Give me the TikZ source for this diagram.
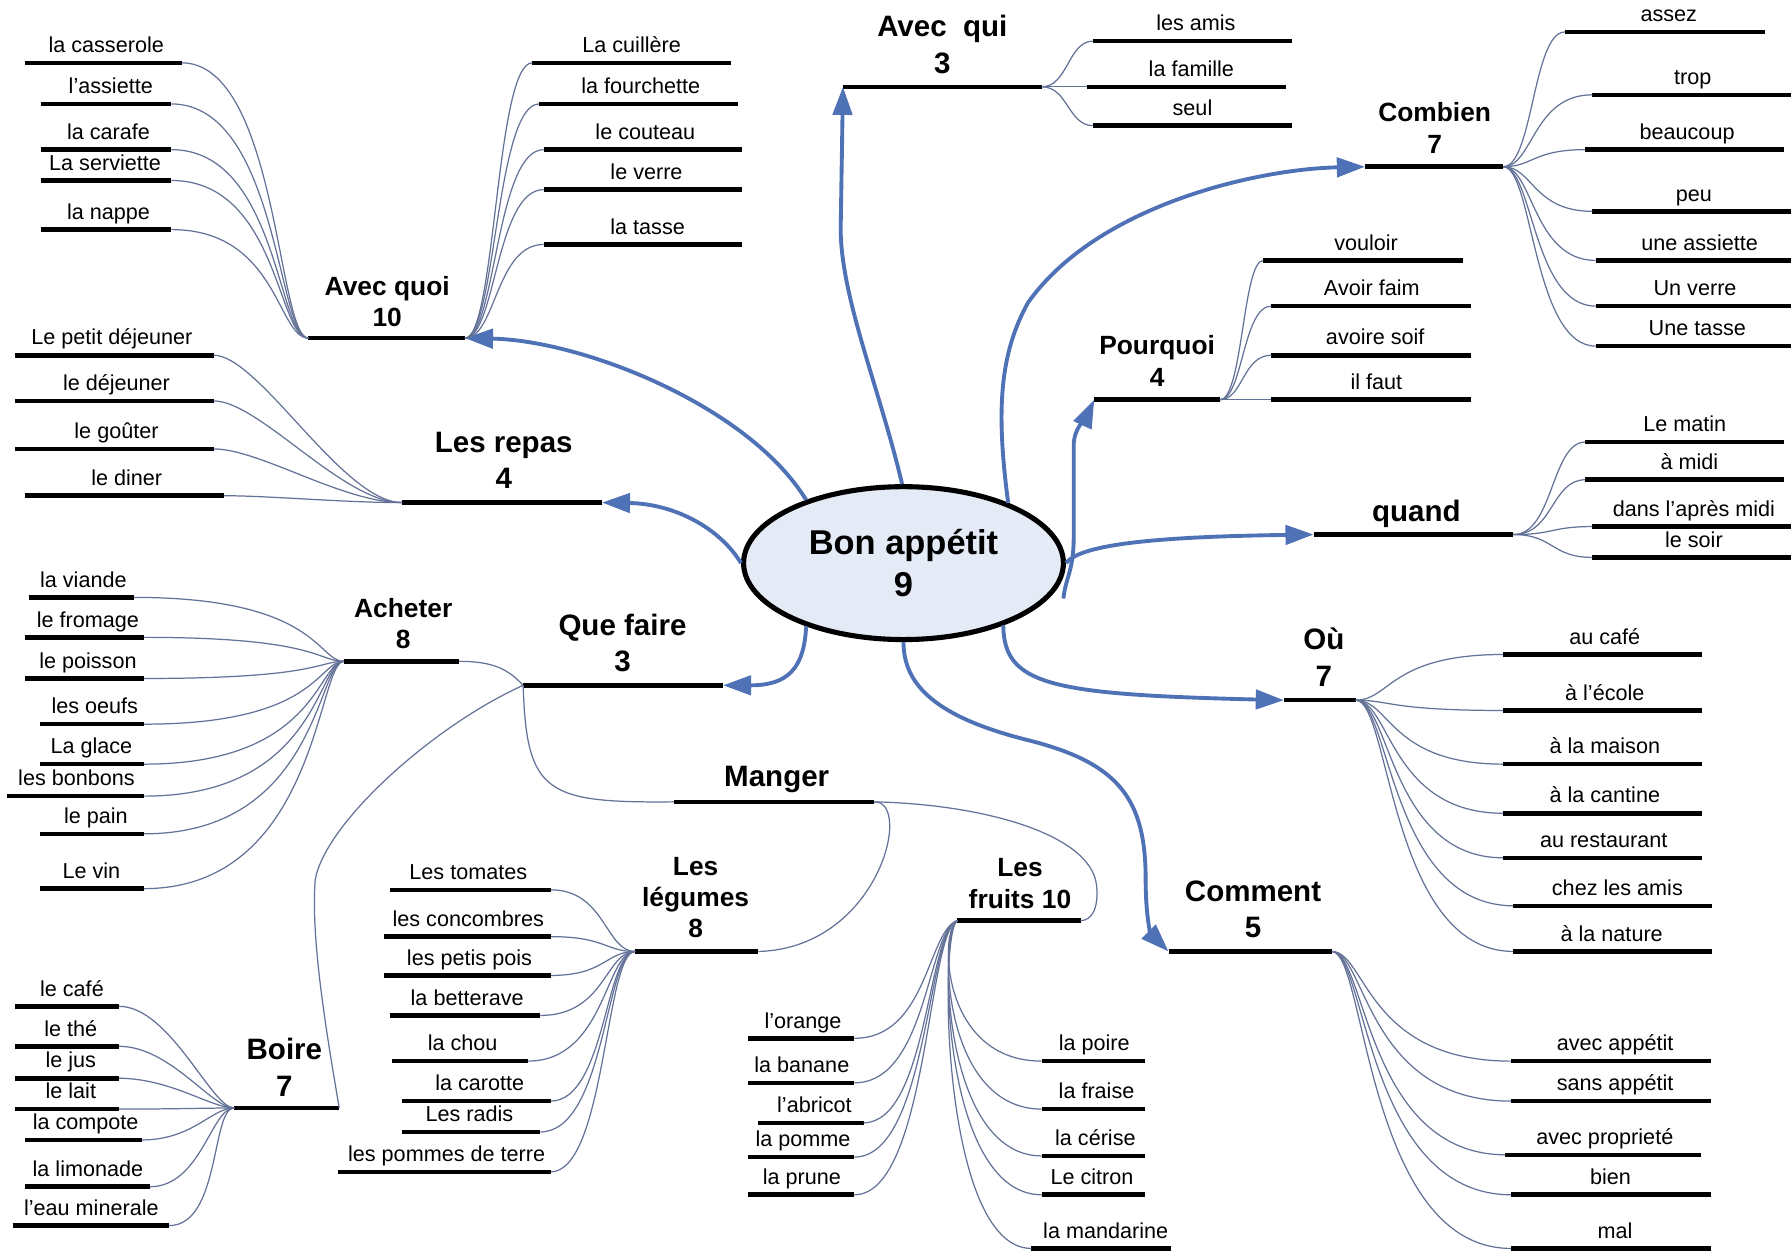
\documentclass[tikz,border=0pt]{standalone}
\usepackage{fontspec}
\setmainfont{Liberation Sans}
\usepackage{tikz}
\usetikzlibrary{arrows.meta, shapes.geometric}
\definecolor{arrowblue}{RGB}{79,114,182}
\definecolor{twiggray}{RGB}{100,114,152}
\definecolor{hubfill}{RGB}{229,235,246}

\begin{document}
\begin{tikzpicture}[
    x=0.65pt, y=-0.65pt,
    hub/.style={ellipse, draw, line width=2.9pt, fill=hubfill, minimum width=182pt, minimum height=87pt, align=center, font=\fontsize{19.6}{23.5}\selectfont\bfseries},
    topic/.style={anchor=base, align=center, inner sep=0pt, font=\fontsize{16.8}{20.8}\selectfont\bfseries},
    head/.style={anchor=base, align=center, inner sep=0pt, font=\fontsize{15}{17.8}\selectfont\bfseries},
    word/.style={anchor=base, inner sep=0pt, font=\fontsize{12.3}{14}\selectfont},
    bar/.style={line width=2.6pt},
    twig/.style={twiggray, line width=0.7pt},
    branch/.style={-{Triangle[length=16pt, width=11pt]}, arrowblue, line width=2.2pt}
]
\useasboundingbox (0,0) rectangle (1568,1096);

% 中心节点
\node[hub] (bon) at (791,493) {Bon appétit\\9};

% 主题横线
\draw[bar] (270,296) coordinate (aq-w) -- (407,296) coordinate (aq-e);
\draw[bar] (352,440) coordinate (lr-w) -- (527,440) coordinate (lr-e);
\draw[bar] (458,600) coordinate (qf-w) -- (633,600) coordinate (qf-e);
\draw[bar] (301,579) coordinate (ac-w) -- (402,579) coordinate (ac-e);
\draw[bar] (205,970) coordinate (bo-w) -- (297,970) coordinate (bo-e);
\draw[bar] (590,702) coordinate (ma-w) -- (765,702) coordinate (ma-e);
\draw[bar] (556,833) coordinate (lg-w) -- (664,833) coordinate (lg-e);
\draw[bar] (838,806) coordinate (fr-w) -- (946,806) coordinate (fr-e);
\draw[bar] (738,76) coordinate (aqi-w) -- (912,76) coordinate (aqi-e);
\draw[bar] (1195,146) coordinate (cb-w) -- (1316,146) coordinate (cb-e);
\draw[bar] (958,350) coordinate (pq-w) -- (1068,350) coordinate (pq-e);
\draw[bar] (1150,468) coordinate (qd-w) -- (1325,468) coordinate (qd-e);
\draw[bar] (1124,613) coordinate (ou-w) -- (1187,613) coordinate (ou-e);
\draw[bar] (1023,833) coordinate (cm-w) -- (1166,833) coordinate (cm-e);

% 主题文字 (基线为最后一行)
\node[head] (aq) at (339,286) {Avec quoi\\10};
\node[topic] (lr) at (441,428) {Les repas\\4};
\node[topic] (qf) at (545,588) {Que faire\\3};
\node[head] (ac) at (353,568) {Acheter\\8};
\node[topic] (bo) at (249,960) {Boire\\7};
\node[topic] (ma) at (680,689) {Manger};
\node[head] (lg) at (609,821) {Les\\légumes\\8};
\node[head] (fr) at (893,795) {Les\\fruits 10};
\node[topic] (aqi) at (825,64) {Avec\ \ qui\\3};
\node[head] (cb) at (1256,134) {Combien\\7};
\node[head] (pq) at (1013,338) {Pourquoi\\4};
\node[topic] (qd) at (1240,457) {quand};
\node[topic] (ou) at (1159,601) {Où\\7};
\node[topic] (cm) at (1097,821) {Comment\\5};

% 从中心出发的箭头
\coordinate (pq-s) at (931,524);
\draw[branch] (bon.147) .. controls (655,355) and (510,298) .. (aq-e);
\draw[branch] (bon.west) .. controls (630,462) and (590,441) .. (lr-e);
\draw[branch] (bon.-147) .. controls (704,585) and (690,600) .. (qf-e);
\draw[branch] (bon.91) .. controls (770,340) and (736,260) .. (736,200) -- (aqi-w);
\draw[branch] (bon.30) .. controls (872,360) and (875,310) .. (900,265) .. controls (960,180) and (1100,148) .. (cb-w);
\draw[branch] (pq-s) .. controls (933,505) and (940,500) .. (940,470) -- (940,390) .. controls (940,375) and (951,365) .. (pq-w);
\draw[branch] (bon.east) .. controls (945,478) and (1000,470) .. (qd-w);
\draw[branch] (bon.-32) .. controls (879,600) and (920,608) .. (ou-w);
\draw[branch] (bon.south) .. controls (791,600) and (820,628) .. (900,648) .. controls (980,668) and (1003,700) .. (1003,770) .. controls (1003,805) and (1008,818) .. (cm-w);

% 主题之间的细线
\draw[twig] (qf-w) .. controls (445,586) and (432,579) .. (ac-e);
\draw[twig] (qf-w) .. controls (380,635) and (285,720) .. (276,770) .. controls (272,820) and (285,900) .. (bo-e);
\draw[twig] (qf-w) .. controls (461,695) and (478,703) .. (ma-w);
\draw[twig] (ma-e) .. controls (800,700) and (770,830) .. (lg-e);
\draw[twig] (ma-e) .. controls (860,704) and (955,730) .. (960,775) .. controls (962,795) and (956,806) .. (fr-e);

% Avec quoi
\foreach \txt/\lx/\rx/\yy/\cx in {la casserole/22/159/55/93, l'assiette/36/150/91/97, la carafe/36/150/131/95, La serviette/36/150/158/92, la nappe/36/150/201/95} {
    \draw[bar] (\lx,\yy) -- (\rx,\yy) coordinate (e);
    \node[word] at (\cx,\yy-9) {\txt};
    \draw[twig] (e) .. controls (243,\yy) and (243,296) .. (aq-w);
}
\foreach \txt/\lx/\rx/\yy/\cx in {La cuillère/466/640/55/553, la fourchette/472/646/91/561, le couteau/476/650/131/565, le verre/476/650/166/566, la tasse/476/650/214/567} {
    \draw[bar] (\lx,\yy) coordinate (s) -- (\rx,\yy);
    \node[word] at (\cx,\yy-9) {\txt};
    \draw[twig] (aq-e) .. controls (434,296) and (434,\yy) .. (s);
}

% Les repas
\foreach \txt/\lx/\rx/\yy/\cx in {Le petit déjeuner/13/187/311/98, le déjeuner/13/187/351/102, le goûter/13/187/393/102, le diner/22/196/434/111} {
    \draw[bar] (\lx,\yy) -- (\rx,\yy) coordinate (e);
    \node[word] at (\cx,\yy-9) {\txt};
    \draw[twig] (e) .. controls (\rx+40,\yy) and (300,440) .. (lr-w);
}

% Acheter
\foreach \txt/\lx/\rx/\yy/\cx in {la viande/25/117/523/73, le fromage/22/126/558/77, le poisson/22/126/594/77, les oeufs/35/126/634/83, La glace/35/126/669/80, les bonbons/6/126/697/67, le pain/35/126/730/84, Le vin/35/126/778/80} {
    \draw[bar] (\lx,\yy) -- (\rx,\yy) coordinate (e);
    \node[word] at (\cx,\yy-9) {\txt};
    \draw[twig] (e) .. controls (278,\yy) and (278,579) .. (ac-w);
}

% Boire
\foreach \txt/\lx/\rx/\yy/\cx in {le café/13/104/881/63, le thé/13/104/916/62, le jus/13/104/944/62, le lait/13/104/971/62, la compote/22/124/998/75, la limonade/22/131/1039/77, l'eau minerale/11/148/1073/80} {
    \draw[bar] (\lx,\yy) -- (\rx,\yy) coordinate (e);
    \node[word] at (\cx,\yy-9) {\txt};
    \draw[twig] (e) .. controls (\rx+45,\yy) and (185,970) .. (bo-w);
}

% Les légumes
\foreach \txt/\lx/\rx/\yy/\cx in {Les tomates/341/482/779/410, les concombres/336/482/820/410, les petis pois/336/482/854/411, la betterave/341/473/889/409, la chou/343/462/929/405, la carotte/352/482/964/420, Les radis/352/473/991/411, les pommes de terre/296/482/1026/391} {
    \draw[bar] (\lx,\yy) -- (\rx,\yy) coordinate (e);
    \node[word] at (\cx,\yy-9) {\txt};
    \draw[twig] (e) .. controls (530,\yy) and (530,833) .. (lg-w);
}

% Les fruits
\foreach \txt/\lx/\rx/\yy/\cx in {l'orange/655/748/909/703, la banane/655/748/948/702, l'abricot/664/756/983/713, la pomme/655/748/1013/703, la prune/655/748/1046/702} {
    \draw[bar] (\lx,\yy) -- (\rx,\yy) coordinate (e);
    \node[word] at (\cx,\yy-9) {\txt};
    \draw[twig] (e) .. controls (812,\yy) and (812,815) .. (fr-w);
}
\foreach \txt/\lx/\rx/\yy/\cx in {la poire/912/1002/929/958, la fraise/912/1002/971/960, la cérise/912/1002/1012/959, Le citron/912/1002/1046/956, la mandarine/903/1025/1093/968} {
    \draw[bar] (\lx,\yy) coordinate (s) -- (\rx,\yy);
    \node[word] at (\cx,\yy-9) {\txt};
    \draw[twig] (fr-w) .. controls (822,815) and (824,\yy) .. (s);
}

% Avec qui
\foreach \txt/\lx/\rx/\yy/\cx in {les amis/957/1131/36/1047, la famille/952/1126/76/1043, seul/957/1131/110/1044} {
    \draw[bar] (\lx,\yy) coordinate (s) -- (\rx,\yy);
    \node[word] at (\cx,\yy-9) {\txt};
    \draw[twig] (aqi-e) .. controls (935,76) and (935,\yy) .. (s);
}

% Combien
\foreach \txt/\lx/\rx/\yy/\cx in {assez/1370/1545/28/1461, trop/1394/1568/83/1482, beaucoup/1388/1562/131/1477, peu/1394/1568/185/1483, une assiette/1397/1568/228/1488, Un verre/1397/1568/268/1484, Une tasse/1397/1568/303/1486} {
    \draw[bar] (\lx,\yy) coordinate (s) -- (\rx,\yy);
    \node[word] at (\cx,\yy-9) {\txt};
    \draw[twig] (cb-e) .. controls (1342,146) and (1342,\yy) .. (s);
}

% Pourquoi
\foreach \txt/\lx/\rx/\yy/\cx in {vouloir/1106/1281/228/1196, Avoir faim/1113/1288/268/1201, avoire soif/1113/1288/311/1204, il faut/1113/1288/350/1205} {
    \draw[bar] (\lx,\yy) coordinate (s) -- (\rx,\yy);
    \node[word] at (\cx,\yy-9) {\txt};
    \draw[twig] (pq-e) .. controls (1088,350) and (1088,\yy) .. (s);
}

% quand
\foreach \txt/\lx/\rx/\yy/\cx in {Le matin/1388/1562/387/1475, à midi/1388/1562/420/1479, dans l'après midi/1394/1568/461/1483, le soir/1394/1568/488/1483} {
    \draw[bar] (\lx,\yy) coordinate (s) -- (\rx,\yy);
    \node[word] at (\cx,\yy-9) {\txt};
    \draw[twig] (qd-e) .. controls (1360,468) and (1358,\yy) .. (s);
}

% Où
\foreach \txt/\lx/\rx/\yy/\cx in {au café/1316/1490/573/1405, à l'école/1316/1490/622/1405, à la maison/1316/1490/669/1405, à la cantine/1316/1490/712/1405, au restaurant/1316/1490/751/1404, chez les amis/1325/1499/793/1416, à la nature/1325/1499/833/1411} {
    \draw[bar] (\lx,\yy) coordinate (s) -- (\rx,\yy);
    \node[word] at (\cx,\yy-9) {\txt};
    \draw[twig] (ou-e) .. controls (1217,613) and (1217,\yy) .. (s);
}

% Comment
\foreach \txt/\lx/\rx/\yy/\cx in {avec appétit/1323/1498/929/1414, sans appétit/1323/1498/964/1414, avec proprieté/1318/1489/1011/1405, bien/1323/1498/1046/1410, mal/1323/1498/1093/1414} {
    \draw[bar] (\lx,\yy) coordinate (s) -- (\rx,\yy);
    \node[word] at (\cx,\yy-9) {\txt};
    \draw[twig] (cm-e) .. controls (1196,833) and (1196,\yy) .. (s);
}

\end{tikzpicture}
\end{document}
